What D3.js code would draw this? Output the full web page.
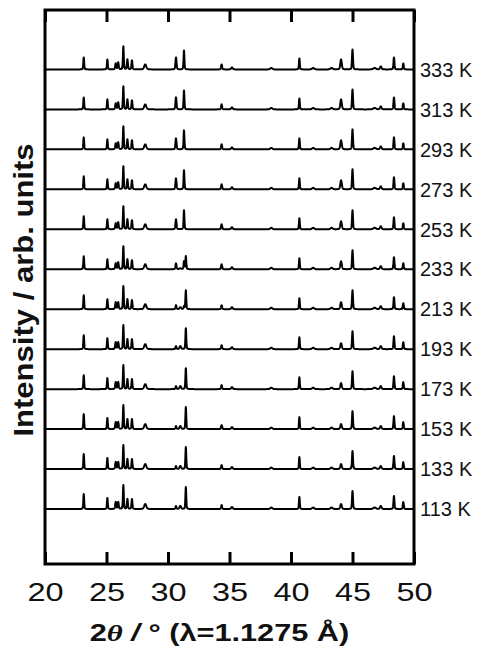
<!DOCTYPE html>
<html>
<head>
<meta charset="utf-8">
<script src="https://cdn.jsdelivr.net/npm/d3@7"></script>
<style>
  html, body { margin: 0; padding: 0; background: #fff; }
  svg { display: block; font-family: "Liberation Sans", Arial, Helvetica, sans-serif; }
</style>
</head>
<body>
<svg id="chart" width="485" height="651"></svg>
<script>
// Powder diffraction patterns, stacked by temperature (top = warmest)
const temperatures = [333, 313, 293, 273, 253, 233, 213, 193, 173, 153, 133, 113];

// Reflection positions (2θ, degrees) and their full widths at half maximum
const peakPositions = [23.15, 25.07, 25.75, 25.95, 26.37, 26.70, 27.07, 28.15,
                       30.65, 31.00, 31.30, 31.45, 34.36, 35.20, 38.40, 40.68,
                       41.80, 43.30, 44.07, 45.00, 46.80, 47.30, 48.37, 49.13];
const peakWidths    = [0.08, 0.08, 0.10, 0.10, 0.08, 0.09, 0.09, 0.20,
                       0.10, 0.15, 0.08, 0.08, 0.10, 0.15, 0.20, 0.08,
                       0.20, 0.20, 0.14, 0.09, 0.25, 0.15, 0.09, 0.09];

// Peak intensities (arb. units) for each temperature, aligned with peakPositions
const peakHeights = [
  [12, 10, 6, 7, 23, 10, 9, 5, 12, 0, 19, 0, 5, 2, 1.5, 11, 1.5, 1.5, 10, 20, 1.5, 3, 12, 6],   // 333 K
  [12, 10, 6, 7, 23, 10, 9, 5, 12, 0, 19, 0, 5, 2, 1.5, 11, 1.5, 1.5, 10, 20, 1.5, 3, 12, 6],   // 313 K
  [12, 10, 6, 7, 23, 10, 9, 5, 11, 0, 19, 0, 5, 2, 1.5, 11, 1.5, 1.5, 9, 20, 1.5, 3, 12, 6],    // 293 K
  [13, 10, 6, 7, 23, 10, 9, 5, 11, 0, 19, 0, 5, 2, 1.5, 11, 1.5, 1.5, 9, 20, 1.5, 3, 12, 6],    // 273 K
  [13, 10, 6, 7, 23, 10, 9, 5, 10, 0, 19, 0, 5, 2, 1.5, 11, 1.5, 1.5, 8, 19, 1.5, 3, 12, 6],    // 253 K
  [13, 10, 6, 7, 23, 10, 9, 5, 6, 1, 8, 13, 5, 2, 1.5, 11, 1.5, 1.5, 8, 19, 1.5, 3, 12, 6],     // 233 K
  [14, 10, 7, 7, 23, 10, 9, 5, 4, 2, 3, 19, 4, 2, 1.5, 11, 1.5, 1.5, 7, 19, 1.5, 3, 12, 6],     // 213 K
  [14, 11, 7, 7, 24, 10, 10, 5, 3, 3, 0, 21, 4, 2, 1.5, 12, 1.5, 1.5, 6, 18, 1.5, 3, 13, 7],    // 193 K
  [14, 11, 7, 7, 24, 10, 10, 5, 3, 3, 0, 21, 4, 2, 1.5, 12, 1.5, 1.5, 6, 18, 1.5, 3, 13, 7],    // 173 K
  [15, 11, 7, 7, 24, 10, 10, 5, 3, 3, 0, 22, 4, 2, 1.5, 12, 1.5, 1.5, 5, 18, 1.5, 3, 13, 7],    // 153 K
  [15, 11, 7, 7, 24, 10, 10, 5, 3, 3, 0, 22, 4, 2, 1.5, 12, 1.5, 1.5, 5, 18, 1.5, 3, 13, 7],    // 133 K
  [15, 11, 7, 7, 24, 10, 10, 5, 3, 3, 0, 22, 4, 2, 1.5, 12, 1.5, 1.5, 5, 18, 1.5, 3, 13, 7]     // 113 K
];

const xTicks = [20, 25, 30, 35, 40, 45, 50];
const rowOffset = 40;          // vertical spacing between stacked patterns
const stepDeg = 0.01;          // 2θ sampling step

// Layout
const svg = d3.select("#chart");
const frame = { left: 45, right: 414, top: 10, bottom: 564 };

const x = d3.scaleLinear().domain([20, 50]).range([frame.left, frame.right]);
// baseline of the lowest pattern sits at 0; warmer patterns are stacked above
const y = d3.scaleLinear()
  .domain([-55, (temperatures.length - 1) * rowOffset + 59.5])
  .range([frame.bottom, frame.top]);

// pseudo-Voigt reflection profile
function profile(t, pos, fwhm) {
  const d = t - pos;
  const hw = fwhm / 2;
  const lor = 1 / (1 + (d / hw) * (d / hw));
  const gau = Math.exp(-Math.LN2 * (d / hw) * (d / hw));
  return 0.35 * lor + 0.65 * gau;
}

const grid = d3.range(20, 50 + stepDeg / 2, stepDeg);

const patterns = temperatures.map((T, i) => {
  const heights = peakHeights[i];
  const base = (temperatures.length - 1 - i) * rowOffset;
  const pts = grid.map(t => {
    let v = 0;
    for (let k = 0; k < peakPositions.length; k++) {
      if (heights[k] > 0 && Math.abs(t - peakPositions[k]) < 2) {
        v += heights[k] * profile(t, peakPositions[k], peakWidths[k]);
      }
    }
    return [t, base + v];
  });
  return { T, base, pts };
});

svg.append("defs").append("clipPath").attr("id", "plot-clip")
  .append("rect")
  .attr("x", frame.left).attr("y", frame.top)
  .attr("width", frame.right - frame.left).attr("height", frame.bottom - frame.top);

const line = d3.line().x(d => x(d[0])).y(d => y(d[1]));

svg.append("g").attr("clip-path", "url(#plot-clip)")
  .selectAll("path.pattern")
  .data(patterns)
  .join("path")
  .attr("class", "pattern")
  .attr("d", d => line(d.pts))
  .attr("fill", "none")
  .attr("stroke", "#000")
  .attr("stroke-width", 2)
  .attr("stroke-linejoin", "round");

// Temperature labels at the right end of each baseline
svg.append("g")
  .selectAll("text")
  .data(patterns)
  .join("text")
  .attr("x", frame.right + 6)
  .attr("y", d => y(d.base))
  .attr("dy", "0.36em")
  .attr("font-size", 20)
  .attr("fill", "#111")
  .text(d => `${d.T} K`);

// Bottom axis with inward ticks
const bottomAxis = d3.axisBottom(x).tickValues(xTicks).tickSizeInner(-12).tickSizeOuter(0).tickPadding(0);
const gB = svg.append("g").attr("transform", `translate(0,${frame.bottom})`).call(bottomAxis);
gB.select(".domain").remove();
gB.selectAll(".tick line").attr("stroke", "#000").attr("stroke-width", 3);
gB.selectAll(".tick text")
  .attr("y", null).attr("dy", null)
  .attr("transform", "translate(0,37) scale(1.3,1)")
  .attr("font-size", 25).attr("fill", "#111")
  .attr("font-family", "'Liberation Sans', Arial, sans-serif");

// Top axis: ticks only
const topAxis = d3.axisTop(x).tickValues(xTicks).tickSizeInner(-12).tickSizeOuter(0).tickFormat("");
const gT = svg.append("g").attr("transform", `translate(0,${frame.top})`).call(topAxis);
gT.select(".domain").remove();
gT.selectAll(".tick line").attr("stroke", "#000").attr("stroke-width", 3);

// Frame
svg.append("rect")
  .attr("x", frame.left).attr("y", frame.top)
  .attr("width", frame.right - frame.left).attr("height", frame.bottom - frame.top)
  .attr("fill", "none").attr("stroke", "#000").attr("stroke-width", 3);

// Axis titles
const xTitle = svg.append("text")
  .attr("transform", `translate(${(frame.left + frame.right) / 2 - 10},641) scale(1.28,1)`)
  .attr("text-anchor", "middle")
  .attr("font-size", 24)
  .attr("font-weight", "bold")
  .attr("fill", "#111");
xTitle.append("tspan").text("2");
xTitle.append("tspan").attr("font-style", "italic").attr("font-family", "'Liberation Serif', 'Times New Roman', serif").text("θ");
xTitle.append("tspan").attr("font-style", "italic").text(" / ");
xTitle.append("tspan").text("° (λ=1.1275 Å)");

svg.append("text")
  .attr("transform", `translate(33,${(frame.top + frame.bottom) / 2 + 3}) rotate(-90) scale(1.15,1)`)
  .attr("text-anchor", "middle")
  .attr("font-size", 27)
  .attr("font-weight", "bold")
  .attr("fill", "#111")
  .text("Intensity / arb. units");
</script>
</body>
</html>
